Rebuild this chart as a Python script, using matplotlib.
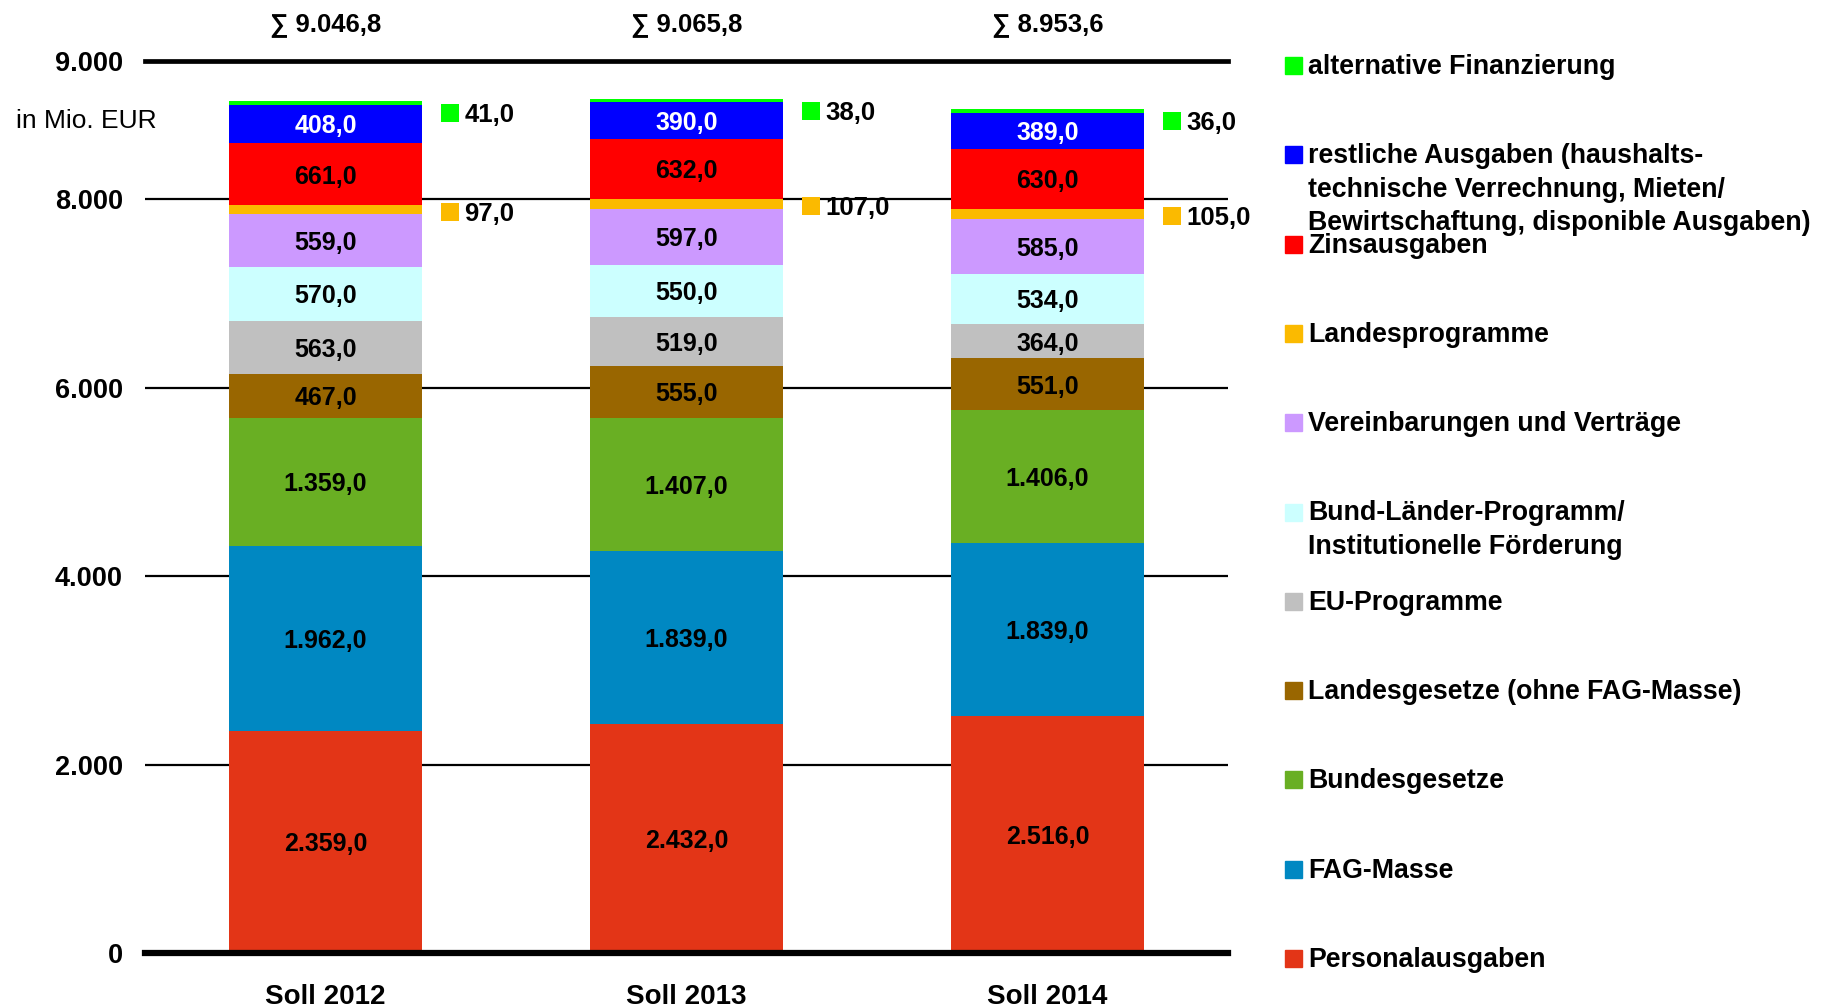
import matplotlib
matplotlib.use("Agg")
import matplotlib.pyplot as plt
import numpy as np

plt.rcParams['font.family'] = ['Liberation Sans', 'DejaVu Sans']

categories = ['Soll 2012', 'Soll 2013', 'Soll 2014']
totals = [9046.8, 9065.8, 8953.6]

# stacked from bottom to top
series_names = [
    'Personalausgaben',
    'FAG-Masse',
    'Bundesgesetze',
    'Landesgesetze (ohne FAG-Masse)',
    'EU-Programme',
    'Bund-Länder-Programm/\nInstitutionelle Förderung',
    'Vereinbarungen und Verträge',
    'Landesprogramme',
    'Zinsausgaben',
    'restliche Ausgaben (haushalts-\ntechnische Verrechnung, Mieten/\nBewirtschaftung, disponible Ausgaben)',
    'alternative Finanzierung',
]
personal = [2359.0, 2432.0, 2516.0]
fag_masse = [1962.0, 1839.0, 1839.0]
bundesgesetze = [1359.0, 1407.0, 1406.0]
landesgesetze = [467.0, 555.0, 551.0]
eu_programme = [563.0, 519.0, 364.0]
bund_laender = [570.0, 550.0, 534.0]
vereinbarungen = [559.0, 597.0, 585.0]
landesprogramme = [97.0, 107.0, 105.0]
zinsausgaben = [661.0, 632.0, 630.0]
restliche = [408.0, 390.0, 389.0]
alternative = [41.0, 38.0, 36.0]

series_values = [personal, fag_masse, bundesgesetze, landesgesetze, eu_programme,
                 bund_laender, vereinbarungen, landesprogramme, zinsausgaben,
                 restliche, alternative]
colors = ['#E33517', '#0088C2', '#69AF23', '#996600', '#C0C0C0', '#CCFFFF',
          '#CC99FF', '#FBBA00', '#FF0000', '#0000FF', '#00FF00']
inside_label = [True, True, True, True, True, True, True, False, True, True, False]
label_color = ['black'] * 9 + ['white', 'black']

ytick_values = [0, 2000, 4000, 6000, 8000, 9470]
ytick_labels = ['0', '2.000', '4.000', '6.000', '8.000', '9.000']


def de_fmt(v, dec=1):
    s = f"{v:,.{dec}f}"
    return s.replace(',', 'X').replace('.', ',').replace('X', '.')


W, H = 1828, 1007
fig = plt.figure(figsize=(W / 100, H / 100), dpi=100)

ax_left, ax_right, ax_top, ax_bottom = 145, 1228, 60.7, 953
ax = fig.add_axes([ax_left / W, 1 - ax_bottom / H, (ax_right - ax_left) / W,
                   (ax_bottom - ax_top) / H])
ymax = 9470
ax.set_xlim(-0.5, 2.5)
ax.set_ylim(0, ymax)

x = np.arange(len(categories))
bw = 0.533
bottom = np.zeros(len(categories))
seg_centers = []
for vals, col, inl, lc in zip(series_values, colors, inside_label, label_color):
    vals = np.array(vals)
    ax.bar(x, vals, bw, bottom=bottom, color=col, edgecolor='none', zorder=2)
    centers = bottom + vals / 2
    seg_centers.append(centers)
    if inl:
        for xi, c, v in zip(x, centers, vals):
            ax.text(xi, c, de_fmt(v), ha='center', va='center_baseline',
                    fontsize=18, fontweight='bold', color=lc, zorder=3)
    bottom = bottom + vals

# pixel scales
px_x = (ax_right - ax_left) / 3.0
px_y = (ax_bottom - ax_top) / ymax

# side labels for the two thin segments (alternative Finanzierung, Landesprogramme)
for sidx, dy_px in [(10, 10), (7, 2)]:
    vals = series_values[sidx]
    for xi, c, v in zip(x, seg_centers[sidx], vals):
        mx = xi + bw / 2 + 28 / px_x
        my = c - dy_px / px_y
        ax.plot([mx], [my], marker='s', ms=12.3, color=colors[sidx],
                markeredgewidth=0, clip_on=False, zorder=3)
        ax.text(mx + 14.5 / px_x, my, de_fmt(v), ha='left', va='center_baseline',
                fontsize=18.5, fontweight='bold', color='black')

# sum labels
for xi, t in zip(x, totals):
    ax.text(xi, 1 + (ax_top - 22) / (ax_bottom - ax_top), '∑ ' + de_fmt(t),
            transform=ax.get_xaxis_transform(), ha='center', va='center_baseline',
            fontsize=18.5, fontweight='bold')

# axes styling
for s in ['left', 'right']:
    ax.spines[s].set_visible(False)
ax.spines['top'].set_linewidth(3.4)
ax.spines['bottom'].set_linewidth(4.5)
ax.set_yticks(ytick_values)
ax.set_yticklabels(ytick_labels, fontsize=19.5, fontweight='bold')
ax.set_xticks(x)
ax.set_xticklabels(categories, fontsize=20, fontweight='bold')
ax.tick_params(axis='y', length=0, pad=16)
ax.tick_params(axis='x', length=0, pad=22)
ax.yaxis.grid(True, color='black', linewidth=1.6)
ax.set_axisbelow(True)

fig.text(15.6 / W, 1 - 128 / H, 'in Mio. EUR', fontsize=19, ha='left', va='baseline')

# manual legend (top to bottom = reverse stacking order)
leg_x_sq, leg_sq_w, leg_sq_h = 1285, 16.5, 17
leg_first_baseline, leg_step, line_step = 74, 89.3, 33.3
for k, idx in enumerate(range(len(series_names) - 1, -1, -1)):
    base = leg_first_baseline + k * leg_step
    fig.patches.append(plt.Rectangle((leg_x_sq / W, 1 - base / H), leg_sq_w / W,
                                     leg_sq_h / H, transform=fig.transFigure,
                                     color=colors[idx], figure=fig))
    for j, line in enumerate(series_names[idx].split('\n')):
        fig.text(1308 / W, 1 - (base + j * line_step) / H, line, fontsize=19.3,
                 fontweight='bold', ha='left', va='baseline')

fig.savefig('out.png', dpi=100)
